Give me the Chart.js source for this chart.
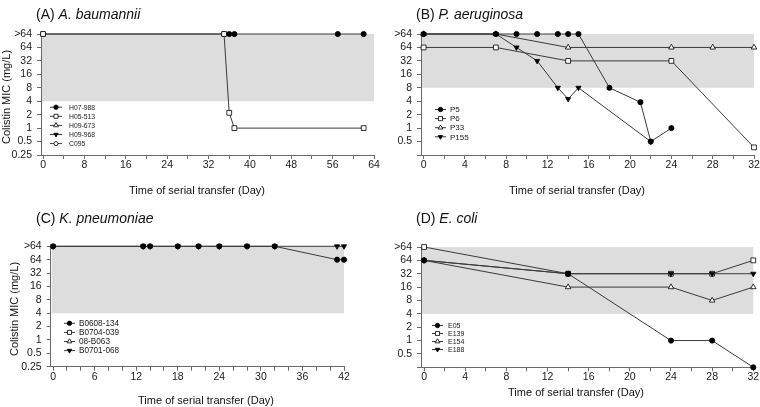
<!DOCTYPE html>
<html>
<head>
<meta charset="utf-8">
<script src="https://cdn.jsdelivr.net/npm/chart.js@4.4.0/dist/chart.umd.min.js"></script>
<style>
  html, body { margin: 0; padding: 0; background: #fff; }
  #fig { position: relative; width: 760px; height: 407px; overflow: hidden;
         font-family: "Liberation Sans", Arial, Helvetica, sans-serif; color: #111; }
  .panel { position: absolute; }
  .panel canvas { display: block; }
  .ttl { position: absolute; font-size: 14px; line-height: 14px; white-space: nowrap; }
  .xt { position: absolute; font-size: 11px; line-height: 11px; white-space: nowrap; transform: translateX(-50%); }
  .yt { position: absolute; font-size: 11px; line-height: 11px; white-space: nowrap;
        transform: translate(-50%, -50%) rotate(-90deg); }
</style>
</head>
<body>
<div id="fig">
  <div class="panel" style="left:0;top:0"><canvas id="chartA" width="380" height="200"></canvas></div>
  <div class="panel" style="left:380px;top:0"><canvas id="chartB" width="380" height="200"></canvas></div>
  <div class="panel" style="left:0;top:200px"><canvas id="chartC" width="380" height="207"></canvas></div>
  <div class="panel" style="left:380px;top:200px"><canvas id="chartD" width="380" height="207"></canvas></div>

  <div class="ttl" style="left:36px;top:6.5px">(A) <i>A. baumannii</i></div>
  <div class="ttl" style="left:416px;top:6.5px">(B) <i>P. aeruginosa</i></div>
  <div class="ttl" style="left:36px;top:210.5px">(C) <i>K. pneumoniae</i></div>
  <div class="ttl" style="left:416px;top:211px">(D) <i>E. coli</i></div>

  <div class="xt" style="left:197px;top:184.5px">Time of serial transfer (Day)</div>
  <div class="xt" style="left:577px;top:184.5px">Time of serial transfer (Day)</div>
  <div class="xt" style="left:206px;top:394.5px">Time of serial transfer (Day)</div>
  <div class="xt" style="left:576px;top:387px">Time of serial transfer (Day)</div>

  <div class="yt" style="left:6px;top:97px">Colistin MIC (mg/L)</div>
  <div class="yt" style="left:14px;top:309px">Colistin MIC (mg/L)</div>
</div>

<script>
// --- données (CMI en mg/L ; 128 = ">64") ---
const yTickValues = [0.25, 0.5, 1, 2, 4, 8, 16, 32, 64, 128];
const yTickLabels = ['0.25', '0.5', '1', '2', '4', '8', '16', '32', '64', '>64'];

// (A) A. baumannii
const aStrains = ['H07-988', 'H05-513', 'H09-673', 'H09-968', 'C095'];
const aDays = [[0, 35, 36, 37, 57, 62], [0, 35, 36, 37, 62], [], [], []];
const aMic = [[128, 128, 128, 128, 128, 128], [128, 128, 2.2, 1, 1], [], [], []];
const aXTicks = [0, 4, 8, 12, 16, 20, 24, 28, 32, 36, 40, 44, 48, 52, 56, 60, 64];
const aXLabels = [0, 8, 16, 24, 32, 40, 48, 56, 64];

// (B) P. aeruginosa
const bStrains = ['P5', 'P6', 'P33', 'P155'];
const bDays = [
  [0, 7, 9, 11, 13, 14, 15, 18, 21, 22, 24],
  [0, 7, 14, 24, 32],
  [0, 7, 14, 24, 28, 32],
  [0, 7, 9, 11, 13, 14, 15, 22]
];
const bMic = [
  [128, 128, 128, 128, 128, 128, 128, 8, 3.8, 0.5, 1],
  [64, 64, 32, 32, 0.37],
  [128, 128, 64, 64, 64, 64],
  [128, 128, 64, 32, 8, 4.5, 8, 0.5]
];
const bXTicks = [0, 2, 4, 6, 8, 10, 12, 14, 16, 18, 20, 22, 24, 26, 28, 30, 32];
const bXLabels = [0, 4, 8, 12, 16, 20, 24, 28, 32];

// (C) K. pneumoniae
const cStrains = ['B0608-134', 'B0704-039', '08-B063', 'B0701-068'];
const cDays = [
  [0, 13, 14, 18, 21, 24, 28, 32, 41, 42],
  [], [],
  [0, 13, 14, 18, 21, 24, 28, 32, 41, 42]
];
const cMic = [
  [128, 128, 128, 128, 128, 128, 128, 128, 64, 64],
  [], [],
  [128, 128, 128, 128, 128, 128, 128, 128, 128, 128]
];
const cXTicks = [0, 2, 4, 6, 8, 10, 12, 14, 16, 18, 20, 22, 24, 26, 28, 30, 32, 34, 36, 38, 40, 42];
const cXLabels = [0, 6, 12, 18, 24, 30, 36, 42];

// (D) E. coli
const dStrains = ['E05', 'E139', 'E154', 'E188'];
const dDays = [[0, 14, 24, 28, 32], [0, 14, 24, 28, 32], [0, 14, 24, 28, 32], [0, 14, 24, 28, 32]];
const dMic = [
  [64, 32, 1, 1, 0.25],
  [128, 32, 32, 32, 64],
  [64, 16, 16, 8, 16],
  [64, 32, 32, 32, 32]
];
const dXTicks = [0, 2, 4, 6, 8, 10, 12, 14, 16, 18, 20, 22, 24, 26, 28, 30, 32];
const dXLabels = [0, 4, 8, 12, 16, 20, 24, 28, 32];

// --- styles ---
const FONT = '"Liberation Sans", Arial, Helvetica, sans-serif';
const INK = '#1a1a1a';
const AXIS = '#6a6a6a';
const LINE = '#3a3a3a';
const BAND = '#dddddd';

const MARKS = {
  dot:   { pointStyle: 'circle',   radius: 2.6, fill: '#000', rotation: 0 },
  sq:    { pointStyle: 'rect',     radius: 3.4, fill: '#fff', rotation: 0 },
  tri:   { pointStyle: 'triangle', radius: 3.2, fill: '#fff', rotation: 0 },
  tdown: { pointStyle: 'triangle', radius: 3.0, fill: '#000', rotation: 180 },
  ring:  { pointStyle: 'circle',   radius: 2.4, fill: '#fff', rotation: 0 }
};
const markOrder = ['dot', 'sq', 'tri', 'tdown', 'ring'];

// zone grise (plage des CMI "résistantes")
const bandPlugin = {
  id: 'band',
  beforeDatasetsDraw(chart, args, o) {
    const { ctx, chartArea, scales } = chart;
    const top = scales.y.getPixelForValue(Math.log2(o.to));
    const bottom = scales.y.getPixelForValue(Math.log2(o.from));
    ctx.save();
    ctx.fillStyle = BAND;
    ctx.fillRect(chartArea.left + 1, top, chartArea.right - chartArea.left - 1, bottom - top);
    ctx.restore();
  }
};

// légende dessinée dans la zone du graphique
const innerLegend = {
  id: 'innerLegend',
  afterDatasetsDraw(chart, args, o) {
    const ctx = chart.ctx;
    ctx.save();
    ctx.font = o.size + 'px ' + FONT;
    ctx.textBaseline = 'middle';
    chart.data.datasets.forEach((ds, i) => {
      const y = o.y + i * o.step;
      ctx.strokeStyle = LINE;
      ctx.lineWidth = 1;
      ctx.beginPath();
      ctx.moveTo(o.x, y);
      ctx.lineTo(o.x + o.len, y);
      ctx.stroke();
      ctx.fillStyle = ds.pointBackgroundColor;
      ctx.strokeStyle = '#000';
      ctx.lineWidth = 0.8;
      Chart.helpers.drawPoint(ctx, {
        pointStyle: ds.pointStyle, rotation: ds.pointRotation,
        radius: ds.pointRadius * 0.85, borderWidth: 0.8
      }, o.x + o.len / 2, y);
      ctx.fillStyle = INK;
      ctx.fillText(ds.label, o.x + o.len + o.gap, y + 0.5);
    });
    ctx.restore();
  }
};

function buildSeries(names, days, mic, order) {
  return names.map((name, i) => {
    const m = MARKS[markOrder[i]];
    return {
      label: name,
      order: order[i],
      data: days[i].map((d, k) => ({ x: d, y: Math.log2(mic[i][k]) })),
      borderColor: LINE,
      borderWidth: 1,
      tension: 0,
      clip: false,
      pointStyle: m.pointStyle,
      pointRotation: m.rotation,
      pointRadius: m.radius,
      pointHoverRadius: m.radius,
      pointBackgroundColor: m.fill,
      pointBorderColor: '#000',
      pointBorderWidth: 0.8
    };
  });
}

function makePanel(id, p) {
  new Chart(document.getElementById(id), {
    type: 'line',
    data: { datasets: p.datasets },
    options: {
      responsive: false,
      animation: false,
      events: [],
      layout: { padding: { top: p.padTop, right: p.padRight, bottom: 0, left: 0 } },
      plugins: {
        legend: { display: false },
        tooltip: { enabled: false },
        band: { from: p.bandFrom, to: 128 },
        innerLegend: p.legend
      },
      scales: {
        x: {
          type: 'linear',
          min: p.xMin,
          max: p.xMax,
          afterBuildTicks: (s) => { s.ticks = p.xTicks.map(v => ({ value: v })); },
          afterFit: (s) => { s.height = p.xHeight; },
          ticks: {
            autoSkip: false, maxRotation: 0, padding: 0, color: INK,
            font: { family: FONT, size: 10.5 },
            callback: (v) => p.xLabels.includes(v) ? String(v) : ''
          },
          grid: { drawOnChartArea: false, tickLength: 4, color: AXIS },
          border: { color: AXIS }
        },
        y: {
          type: 'linear',
          min: -2,
          max: 7,
          afterBuildTicks: (s) => { s.ticks = yTickValues.map(v => ({ value: Math.log2(v) })); },
          afterFit: (s) => { s.width = p.yWidth; },
          ticks: {
            autoSkip: false, padding: 5, color: INK,
            font: { family: FONT, size: 10.5 },
            callback: (v) => {
              const i = yTickValues.findIndex(t => Math.log2(t) === v);
              if (p.hideLowest && i === 0) return '';
              return yTickLabels[i];
            }
          },
          grid: { drawOnChartArea: false, tickLength: 4, color: AXIS },
          border: { color: AXIS }
        }
      }
    },
    plugins: [bandPlugin, innerLegend]
  });
}

makePanel('chartA', {
  datasets: buildSeries(aStrains, aDays, aMic, [1, 0, 2, 3, 4]),
  xMin: -0.4, xMax: 64, xTicks: aXTicks, xLabels: aXLabels,
  padTop: 34, padRight: 6, yWidth: 41, xHeight: 45, bandFrom: 4, hideLowest: false,
  legend: { x: 50, y: 107.2, step: 9.1, len: 12, gap: 7, size: 6.8 }
});

makePanel('chartB', {
  datasets: buildSeries(bStrains, bDays, bMic, [0, 1, 2, 3]),
  xMin: -0.25, xMax: 32, xTicks: bXTicks, xLabels: bXLabels,
  padTop: 34, padRight: 6, yWidth: 41, xHeight: 45, bandFrom: 8, hideLowest: true,
  legend: { x: 55, y: 109.5, step: 9.1, len: 11, gap: 4, size: 8 }
});

makePanel('chartC', {
  datasets: buildSeries(cStrains, cDays, cMic, [0, 1, 2, 3]),
  xMin: -0.35, xMax: 42, xTicks: cXTicks, xLabels: cXLabels,
  padTop: 46.3, padRight: 36, yWidth: 50.7, xHeight: 40.3, bandFrom: 4, hideLowest: false,
  legend: { x: 64, y: 123.3, step: 9.1, len: 11, gap: 4, size: 8.2 }
});

makePanel('chartD', {
  datasets: buildSeries(dStrains, dDays, dMic, [0, 3, 2, 1]),
  xMin: -0.3, xMax: 32, xTicks: dXTicks, xLabels: dXLabels,
  padTop: 47, padRight: 6.7, yWidth: 41, xHeight: 39.7, bandFrom: 4, hideLowest: true,
  legend: { x: 52, y: 125.5, step: 8, len: 11, gap: 5, size: 7 }
});
</script>
</body>
</html>
